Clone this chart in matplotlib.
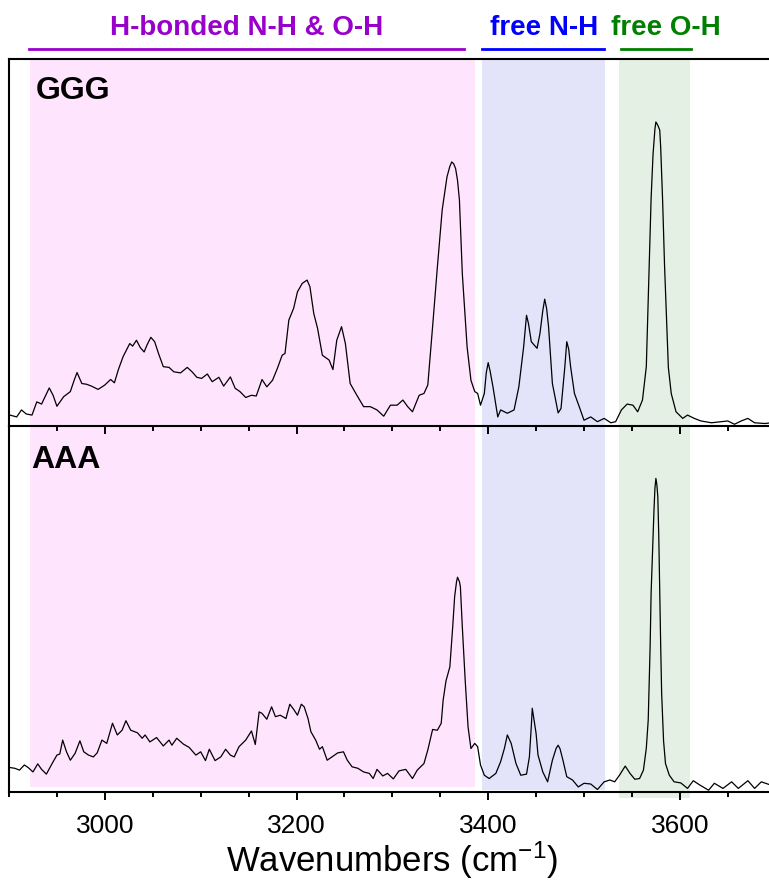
import matplotlib
matplotlib.use("Agg")
import matplotlib.pyplot as plt
import matplotlib.transforms as mtransforms
from matplotlib.ticker import MultipleLocator

plt.rcParams['font.family'] = ['Liberation Sans', 'DejaVu Sans']
plt.rcParams['mathtext.fontset'] = 'custom'
plt.rcParams['mathtext.rm'] = 'Liberation Sans'
plt.rcParams['mathtext.it'] = 'Liberation Sans:italic'

# GGG spectrum (wavenumber, intensity in % of panel height)
ggg_x = [2901, 2908, 2913, 2918, 2924, 2929, 2934, 2942, 2946, 2950, 2957, 2964, 2968, 2971,
         2976, 2981, 2986, 2993, 3000, 3006, 3010, 3014, 3019, 3026, 3029, 3033, 3037, 3041,
         3044, 3048, 3052, 3056, 3061, 3067, 3072, 3079, 3086, 3091, 3096, 3101, 3107, 3112,
         3119, 3124, 3131, 3136, 3141, 3147, 3153, 3158, 3164, 3169, 3175, 3180, 3185, 3188,
         3192, 3197, 3201, 3206, 3211, 3214, 3218, 3222, 3227, 3234, 3238, 3242, 3247, 3251,
         3256, 3263, 3270, 3277, 3284, 3291, 3298, 3305, 3311, 3316, 3321, 3328, 3333, 3337,
         3342, 3347, 3352, 3357, 3360, 3362, 3364, 3366, 3368, 3370, 3373, 3378, 3382, 3386,
         3389, 3392, 3396, 3398, 3400, 3402, 3405, 3410, 3413, 3420, 3427, 3432, 3437, 3440,
         3442, 3445, 3451, 3454, 3457, 3459, 3461, 3463, 3467, 3473, 3476, 3480, 3482, 3484,
         3486, 3490, 3495, 3500, 3507, 3514, 3521, 3528, 3533, 3539, 3545, 3551, 3556, 3561,
         3565, 3568, 3570, 3572, 3574, 3575, 3577, 3579, 3580, 3582, 3584, 3586, 3588, 3591,
         3596, 3603, 3608, 3615, 3622, 3633, 3643, 3650, 3657, 3664, 3671, 3678, 3689, 3695]
ggg_y = [3.0, 2.5, 4.4, 3.3, 3.0, 6.6, 6.0, 10.4, 8.4, 5.4, 8.0, 9.4, 12.5, 14.6,
         11.6, 11.4, 10.9, 10.0, 11.2, 12.7, 11.8, 15.3, 18.9, 22.5, 21.8, 23.4, 21.4, 20.2,
         22.1, 24.2, 23.0, 19.8, 16.2, 16.0, 14.8, 14.5, 16.0, 14.8, 13.3, 13.0, 14.2, 12.1,
         13.3, 10.9, 13.4, 10.3, 9.4, 7.8, 8.4, 8.2, 12.7, 10.7, 12.5, 15.7, 19.3, 19.8,
         28.9, 32.1, 36.6, 38.9, 39.8, 38.0, 30.7, 26.6, 19.3, 18.0, 15.4, 23.4, 27.1, 22.5,
         11.6, 8.4, 5.3, 5.3, 4.4, 2.7, 5.7, 5.7, 7.1, 5.3, 3.9, 8.4, 8.9, 11.2,
         27.1, 43.4, 58.9, 67.9, 70.8, 72.0, 71.5, 70.2, 67.0, 61.6, 41.6, 21.6, 12.5, 9.4,
         8.9, 5.7, 8.9, 14.5, 17.3, 15.0, 10.7, 2.5, 4.4, 3.5, 4.4, 10.7, 21.6, 30.2,
         28.0, 23.0, 21.2, 25.2, 31.5, 34.6, 32.0, 27.1, 11.6, 3.6, 4.8, 16.2, 23.0, 21.0,
         16.2, 8.9, 5.3, 1.6, 2.5, 1.2, 2.1, 0.9, 1.2, 4.4, 6.0, 5.7, 3.9, 7.1,
         16.2, 43.4, 62.0, 74.0, 81.0, 82.9, 82.0, 80.7, 76.0, 61.6, 44.0, 29.8, 16.0, 8.9,
         3.9, 2.1, 3.0, 2.1, 1.4, 0.9, 1.2, 1.4, 0.5, 1.4, 2.1, 0.9, 0.7, 0.9]

# AAA spectrum
aaa_x = [2901, 2906, 2911, 2916, 2920, 2925, 2930, 2934, 2939, 2945, 2950, 2953, 2956, 2960,
         2964, 2969, 2974, 2978, 2983, 2988, 2992, 2997, 3002, 3008, 3013, 3018, 3022, 3027,
         3034, 3039, 3042, 3047, 3054, 3061, 3067, 3070, 3075, 3082, 3088, 3095, 3100, 3105,
         3109, 3115, 3121, 3126, 3131, 3135, 3140, 3147, 3153, 3157, 3161, 3164, 3169, 3174,
         3178, 3183, 3189, 3193, 3197, 3201, 3205, 3208, 3212, 3215, 3220, 3224, 3227, 3232,
         3237, 3243, 3249, 3253, 3258, 3264, 3270, 3276, 3280, 3284, 3290, 3295, 3301, 3307,
         3314, 3321, 3326, 3333, 3337, 3342, 3347, 3351, 3353, 3356, 3360, 3363, 3365, 3367,
         3368, 3370, 3371, 3373, 3376, 3379, 3382, 3386, 3389, 3392, 3396, 3401, 3408, 3413,
         3417, 3420, 3424, 3429, 3434, 3440, 3443, 3445, 3446, 3448, 3450, 3452, 3457, 3462,
         3467, 3471, 3473, 3475, 3478, 3482, 3488, 3494, 3500, 3507, 3514, 3521, 3527, 3532,
         3537, 3543, 3548, 3553, 3558, 3562, 3565, 3567, 3569, 3570, 3572, 3573, 3574, 3575,
         3576, 3577, 3578, 3579, 3580, 3581, 3583, 3585, 3589, 3594, 3601, 3608, 3614, 3621,
         3630, 3636, 3645, 3654, 3661, 3671, 3678, 3685, 3695]
aaa_y = [6.7, 6.5, 6.0, 7.4, 6.7, 5.5, 7.7, 6.2, 4.9, 7.8, 10.1, 10.4, 14.2, 11.0,
         8.7, 10.6, 14.0, 11.0, 10.1, 9.6, 10.7, 14.2, 13.3, 18.8, 15.6, 16.9, 19.5, 16.9,
         16.2, 14.7, 15.6, 13.7, 14.9, 12.6, 14.2, 12.8, 14.7, 13.1, 12.2, 10.1, 11.0, 8.6,
         11.7, 8.6, 9.6, 11.7, 10.1, 9.6, 12.4, 14.2, 16.7, 13.0, 21.9, 21.5, 19.9, 23.3,
         20.6, 21.0, 20.1, 24.0, 22.6, 21.0, 24.0, 23.3, 20.1, 16.5, 14.2, 11.7, 12.4, 8.7,
         9.6, 10.7, 11.0, 8.7, 6.9, 6.5, 5.5, 5.1, 3.7, 6.2, 4.4, 5.1, 3.6, 5.8,
         6.2, 3.7, 6.0, 7.8, 11.5, 17.1, 16.9, 18.8, 25.1, 30.4, 34.2, 45.2, 53.4, 57.5,
         58.7, 57.5, 56.1, 45.2, 30.6, 17.8, 11.9, 13.3, 12.4, 7.4, 4.6, 3.7, 5.1, 8.3,
         12.0, 15.6, 13.3, 7.8, 4.6, 4.9, 9.6, 18.0, 22.9, 19.5, 16.0, 10.1, 5.5, 2.8,
         8.7, 12.0, 12.8, 11.8, 8.7, 4.2, 3.3, 1.4, 2.4, 2.2, 0.7, 2.8, 3.3, 2.8,
         4.6, 7.1, 5.1, 3.5, 3.7, 6.0, 12.0, 19.7, 40.0, 54.3, 70.0, 77.0, 83.0, 85.7,
         84.0, 80.7, 70.0, 54.3, 40.0, 27.0, 14.0, 7.8, 4.6, 2.8, 2.5, 1.0, 3.1, 1.9,
         0.5, 2.4, 1.0, 2.8, 1.0, 3.1, 1.0, 2.8, 1.9]

# shaded bands
band_labels = ["H-bonded N-H & O-H", "free N-H", "free O-H"]
band_ranges = [(2922, 3386), (3394, 3522), (3537, 3611)]
band_fill = ["#FFE4FE", "#E3E3FA", "#E4F0E4"]
band_text_color = ["#9900CC", "#0000FF", "#008000"]
bar_ranges = [(2921, 3375), (3394, 3521), (3539, 3612)]
text_x = [3148, 3458, 3585]

fig = plt.figure(figsize=(7.69, 8.84), dpi=100)
ax_top = fig.add_axes([0.0117, 0.518, 0.997, 0.415])
ax_bot = fig.add_axes([0.0117, 0.104, 0.997, 0.414])
ax_top.set_zorder(3)  # keep its bottom spine and ticks over the lower panel

# lower ends of the bands in the bottom panel
bot_ymin = [0.014, 0.005, -0.015]

for ax, x, y in [(ax_top, ggg_x, ggg_y), (ax_bot, aaa_x, aaa_y)]:
    for i, (lo, hi) in enumerate(band_ranges):
        ymin = 0 if ax is ax_top else bot_ymin[i]
        ax.axvspan(lo, hi, ymin=ymin, ymax=1, color=band_fill[i], lw=0, zorder=0,
                   clip_on=False)
    ax.plot(x, y, color="black", lw=0.9, zorder=2)
    ax.set_xlim(2900, 3700)
    ax.set_ylim(0, 100)
    ax.set_yticks([])
    ax.xaxis.set_major_locator(MultipleLocator(200))
    ax.xaxis.set_minor_locator(MultipleLocator(50))
    ax.tick_params(axis="x", which="major", direction="out", length=6, width=1.4,
                   labelsize=19, pad=10)
    ax.tick_params(axis="x", which="minor", direction="out", length=3.5, width=1.4)
    for s in ax.spines.values():
        s.set_linewidth(1.5)
    ax.spines["right"].set_visible(False)
    ax.patch.set_alpha(0)

ax_top.tick_params(axis="x", labelbottom=False)
ax_bot.spines["top"].set_visible(False)

ax_top.text(0.035, 0.891, "GGG", transform=ax_top.transAxes, fontsize=23,
            fontweight="bold", va="baseline")
ax_bot.text(0.029, 0.885, "AAA", transform=ax_bot.transAxes, fontsize=23,
            fontweight="bold", va="baseline")

ax_bot.set_xlabel("Wavenumbers (cm$^{-1}$)", fontsize=25, labelpad=1)

# band labels above the top panel
trans = mtransforms.blended_transform_factory(ax_top.transData, ax_top.transAxes)
for i in range(3):
    ax_top.plot(bar_ranges[i], [1.027, 1.027], color=band_text_color[i], lw=2,
                transform=trans, clip_on=False)
    ax_top.text(text_x[i], 1.065, band_labels[i], color=band_text_color[i],
                fontsize=20, fontweight="bold", ha="center", va="baseline",
                transform=trans)

fig.savefig("out.png", dpi=100)
